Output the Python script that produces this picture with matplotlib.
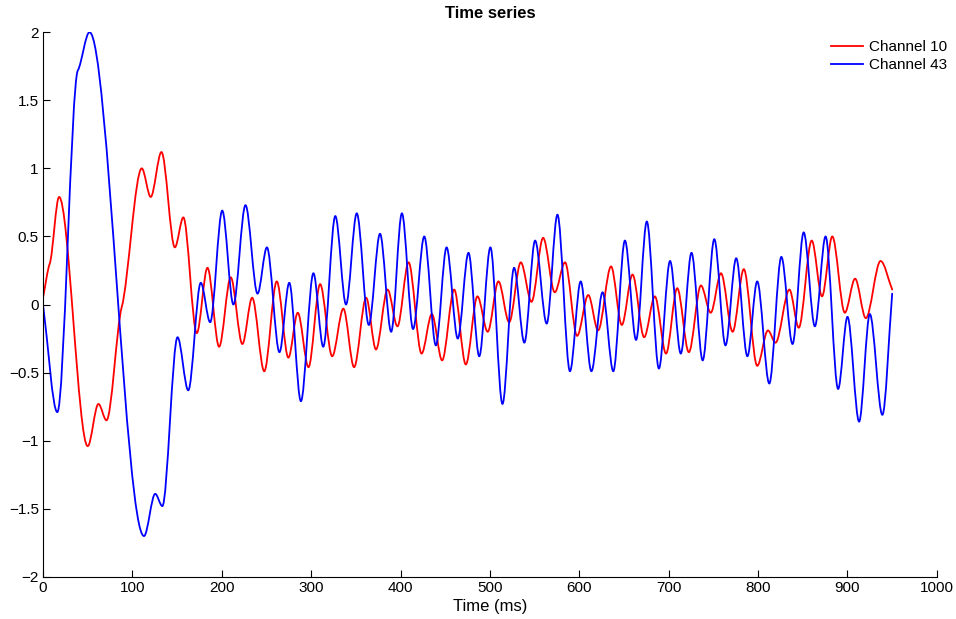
import matplotlib

matplotlib.use("Agg")
import matplotlib.pyplot as plt
from matplotlib.lines import Line2D
from matplotlib.patches import PathPatch
from matplotlib.path import Path

plt.rcParams["font.family"] = ["Liberation Sans", "DejaVu Sans"]
plt.rcParams["axes.unicode_minus"] = True

# turning points of each channel: time (ms) and amplitude
ch10_t = [0, 7.5, 18, 50, 62, 71, 88, 110.5, 120.5, 132.5, 147.5, 157, 172, 184, 197,
          210, 223, 234, 247.5, 261.5, 274.5, 285, 297, 310, 323.5, 336, 348, 361.5,
          372.5, 385.5, 396.5, 409, 423.5, 435, 446.5, 460, 473, 486, 497.5, 509.5,
          521.5, 534.5, 546.5, 559.5, 572.5, 584, 597.5, 610, 621, 635.5, 647.5, 659.5,
          672.5, 684.5, 697, 709.5, 722.5, 736, 747, 758.5, 771.5, 784, 799, 811, 819.5,
          835, 845.5, 860, 871.5, 883, 897, 908.5, 920.5, 937, 950]
ch10_v = [0.05, 0.30, 0.79, -1.04, -0.73, -0.85, -0.02, 1.00, 0.79, 1.12, 0.42, 0.64,
          -0.21, 0.27, -0.31, 0.20, -0.29, 0.05, -0.49, 0.17, -0.39, -0.06, -0.46, 0.15,
          -0.38, -0.03, -0.46, 0.05, -0.33, 0.11, -0.16, 0.31, -0.36, -0.07, -0.41, 0.11,
          -0.44, 0.06, -0.20, 0.17, -0.13, 0.31, 0.02, 0.49, 0.09, 0.31, -0.23, 0.07,
          -0.19, 0.28, -0.15, 0.22, -0.24, 0.06, -0.36, 0.12, -0.35, 0.14, -0.06, 0.23,
          -0.20, 0.26, -0.45, -0.19, -0.28, 0.11, -0.17, 0.47, 0.06, 0.50, -0.06, 0.19,
          -0.10, 0.32, 0.11]

ch43_t = [0, 16, 39, 52, 113, 125.5, 133.5, 150.5, 162.5, 176.5, 187, 200.5, 213, 226.5,
          240, 250.5, 264.5, 275.5, 288.5, 302.5, 313.5, 327, 339, 351, 364.5, 377, 389.5,
          401.5, 414, 426.5, 439.5, 451.5, 464, 476, 488, 500.5, 514, 527, 538.5, 550.5,
          563.5, 575.5, 589.5, 601.5, 613.5, 626, 638, 651, 663.5, 675.5, 689, 701.5, 713.5,
          725.5, 738, 751, 763.5, 775.5, 788, 799, 812.5, 826, 838.5, 851, 863.5, 875.5,
          889.5, 900, 913, 925, 939, 950]
ch43_v = [0.00, -0.79, 1.72, 2.00, -1.70, -1.39, -1.48, -0.24, -0.63, 0.16, -0.13, 0.69,
          0.00, 0.73, 0.08, 0.42, -0.35, 0.16, -0.71, 0.23, -0.31, 0.65, 0.00, 0.67,
          -0.15, 0.52, -0.20, 0.67, -0.18, 0.50, -0.30, 0.42, -0.25, 0.38, -0.38, 0.42,
          -0.73, 0.27, -0.28, 0.47, -0.14, 0.66, -0.49, 0.17, -0.49, 0.09, -0.49, 0.47,
          -0.26, 0.61, -0.47, 0.32, -0.36, 0.38, -0.41, 0.48, -0.30, 0.34, -0.38, 0.17,
          -0.58, 0.35, -0.29, 0.53, -0.16, 0.50, -0.62, -0.09, -0.86, -0.07, -0.81, 0.08]

labels = ["Channel 10", "Channel 43"]
colors = ["#ff0000", "#0000ff"]


def smooth_path(t, v, knee=0.5):
    """Cubic Bezier through the points: flat at peaks/troughs, sloped at knees and ends."""
    n = len(t)
    sec = [(v[i + 1] - v[i]) / (t[i + 1] - t[i]) for i in range(n - 1)]
    slope = [sec[0]] + [0.0] * (n - 2) + [sec[-1]]
    for i in range(1, n - 1):
        if sec[i - 1] * sec[i] > 0:  # still rising/falling: a knee, not a turning point
            s = min(abs(sec[i - 1]), abs(sec[i])) * knee
            slope[i] = s if sec[i] > 0 else -s
    verts = [(t[0], v[0])]
    codes = [Path.MOVETO]
    for i in range(n - 1):
        h = (t[i + 1] - t[i]) / 3
        verts += [(t[i] + h, v[i] + slope[i] * h),
                  (t[i + 1] - h, v[i + 1] - slope[i + 1] * h),
                  (t[i + 1], v[i + 1])]
        codes += [Path.CURVE4] * 3
    return Path(verts, codes)


fig = plt.figure(figsize=(9.56, 6.19), dpi=100)
ax = fig.add_axes([0.045, 0.068, 0.935, 0.88])

for (t, v), c in zip([(ch10_t, ch10_v), (ch43_t, ch43_v)], colors):
    ax.add_patch(PathPatch(smooth_path(t, v), fill=False, edgecolor=c, lw=1.3,
                           capstyle="round", joinstyle="round"))

ax.set_xlim(0, 1000)
ax.set_ylim(-2, 2)
ax.set_xticks(range(0, 1001, 100))
ax.set_yticks([-2, -1.5, -1, -0.5, 0, 0.5, 1, 1.5, 2])
ax.set_yticklabels(["\u22122", "\u22121.5", "\u22121", "\u22120.5", "0", "0.5", "1", "1.5", "2"])
ax.tick_params(direction="in", length=5, width=0.8, labelsize=11, pad=3)
for side in ("top", "right"):
    ax.spines[side].set_visible(False)
for side in ("left", "bottom"):
    ax.spines[side].set_linewidth(0.8)

ax.set_title("Time series", fontsize=12, fontweight="bold", pad=10)
ax.set_xlabel("Time (ms)", fontsize=12, labelpad=3)

handles = [Line2D([], [], color=c, lw=1.3) for c in colors]
ax.legend(handles, labels, loc="upper right", frameon=False, fontsize=11,
          handlelength=2.15, handletextpad=0.4, labelspacing=0.25,
          bbox_to_anchor=(1.012, 0.985), borderaxespad=0.0, borderpad=0.0)

fig.savefig("out.png", dpi=100)
